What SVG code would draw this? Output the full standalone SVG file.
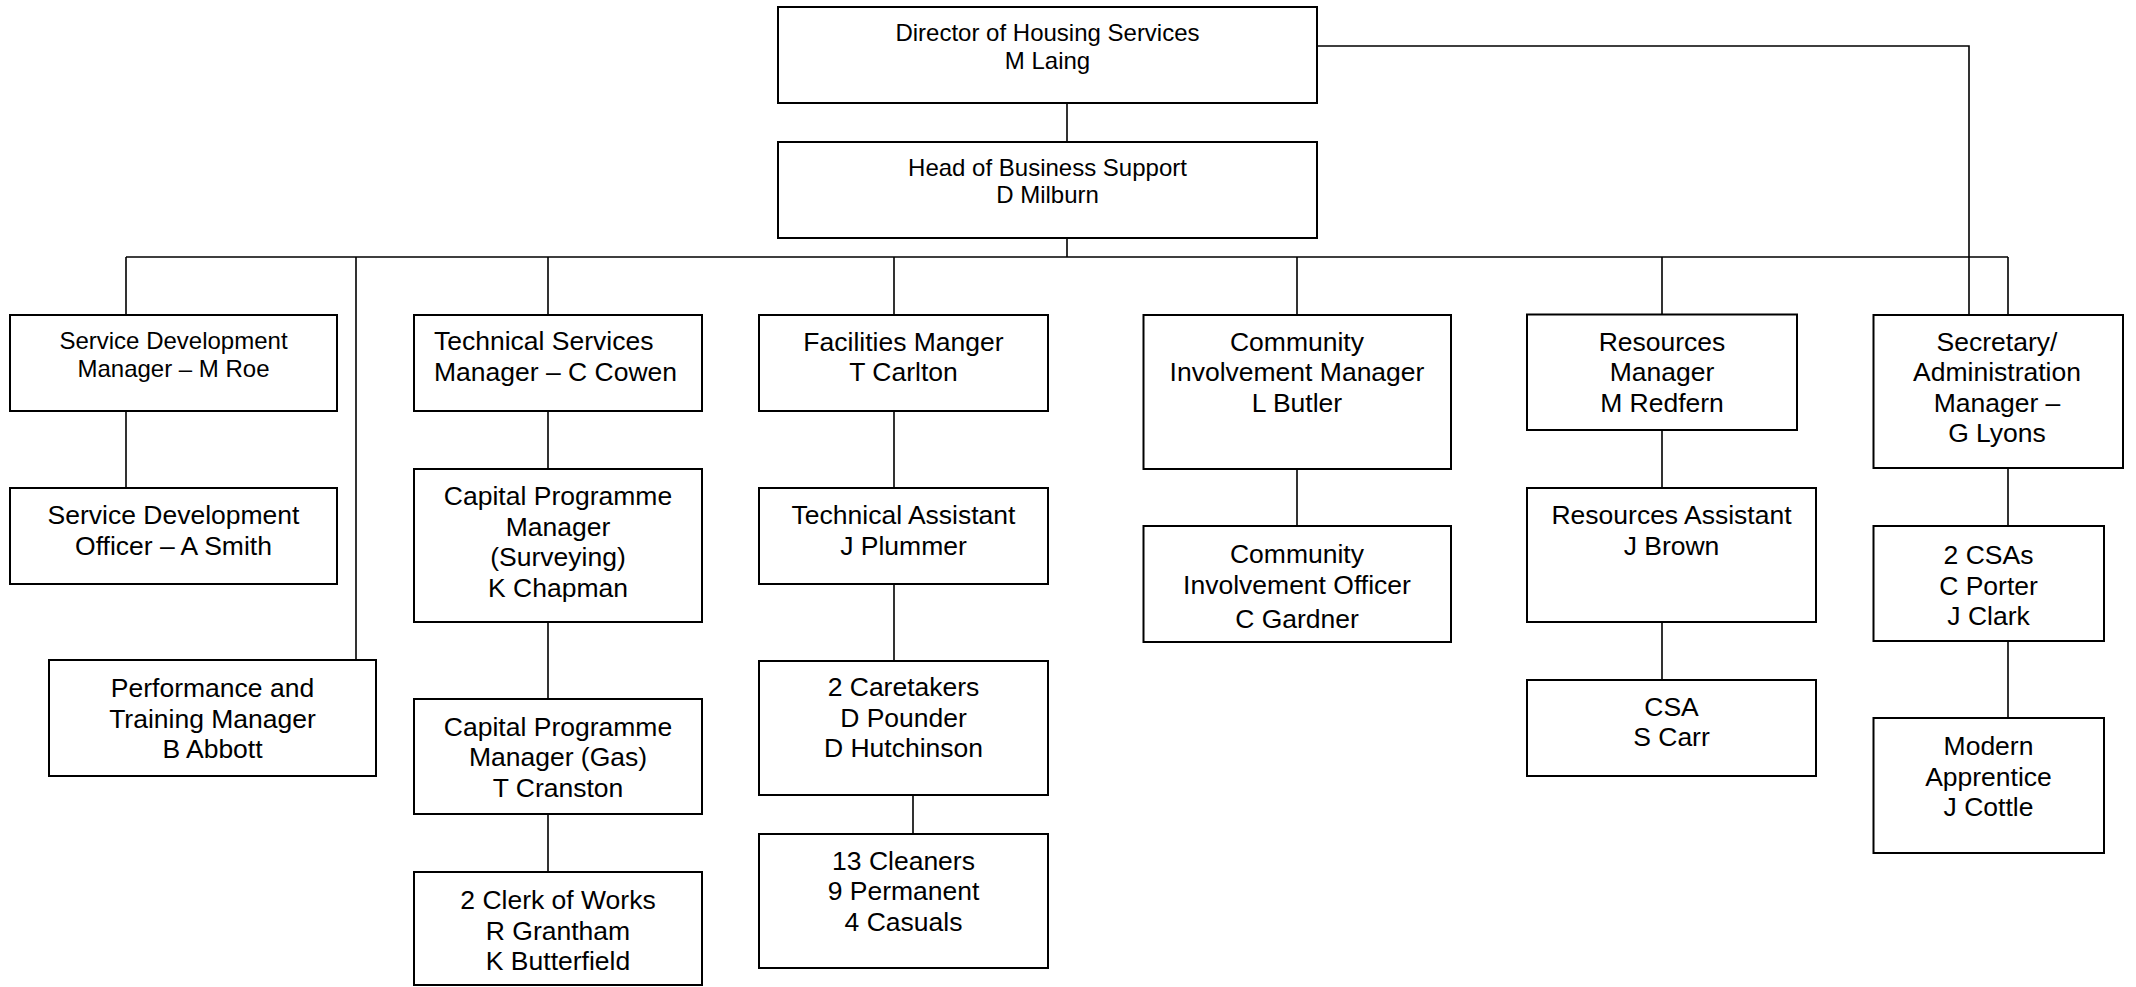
<svg xmlns="http://www.w3.org/2000/svg" width="2136" height="987" viewBox="0 0 2136 987">
<style>
.box{fill:#fff;stroke:#000;stroke-width:2}
.c{fill:none;stroke:#000;stroke-width:1.6}
text{font-family:"Liberation Sans",Arial,sans-serif;font-size:26.5px;text-anchor:middle;fill:#000}
.s{font-size:24px}
.l{text-anchor:start}
</style>
<rect width="2136" height="987" fill="#fff"/>
<g id="connectors">
<path class="c" d="M1067 103V142M1067 238V257M126 257H2008M126 257V315M548 257V315M894 257V315M1297 257V315M1662 257V315M2008 257V315M356 257V660"/>
<path class="c" d="M1317 46H1969V315"/>
<path class="c" d="M126 411V488M548 411V469M548 622V699M548 814V872M894 411V488M894 584V661M913 795V834M1297 469V526M1662 430V488M1662 622V680M2008 468V526M2008 641V718"/>
</g>
<g id="director">
<rect class="box" x="778" y="7" width="539" height="96"/>
<text class="s" x="1047.5" y="41">Director of Housing Services</text>
<text class="s" x="1047.5" y="69">M Laing</text>
</g>
<g id="head">
<rect class="box" x="778" y="142" width="539" height="96"/>
<text class="s" x="1047.5" y="175.5">Head of Business Support</text>
<text class="s" x="1047.5" y="203">D Milburn</text>
</g>
<g id="sdm">
<rect class="box" x="10" y="315" width="327" height="96"/>
<text class="s" x="173.5" y="349">Service Development</text>
<text class="s" x="173.5" y="376.5">Manager – M Roe</text>
</g>
<g id="sdo">
<rect class="box" x="10" y="488" width="327" height="96"/>
<text x="173.5" y="524">Service Development</text>
<text x="173.5" y="554.5">Officer – A Smith</text>
</g>
<g id="perf">
<rect class="box" x="49" y="660" width="327" height="116"/>
<text x="212.5" y="697">Performance and</text>
<text x="212.5" y="727.5">Training Manager</text>
<text x="212.5" y="758">B Abbott</text>
</g>
<g id="tsm">
<rect class="box" x="414" y="315" width="288" height="96"/>
<text class="l" x="434" y="350">Technical Services</text>
<text class="l" x="434" y="380.5">Manager – C Cowen</text>
</g>
<g id="cpms">
<rect class="box" x="414" y="469" width="288" height="153"/>
<text x="558" y="505">Capital Programme</text>
<text x="558" y="535.5">Manager</text>
<text x="558" y="566">(Surveying)</text>
<text x="558" y="596.5">K Chapman</text>
</g>
<g id="cpmg">
<rect class="box" x="414" y="699" width="288" height="115"/>
<text x="558" y="735.5">Capital Programme</text>
<text x="558" y="766">Manager (Gas)</text>
<text x="558" y="796.5">T Cranston</text>
</g>
<g id="clerk">
<rect class="box" x="414" y="872" width="288" height="113"/>
<text x="558" y="909">2 Clerk of Works</text>
<text x="558" y="939.5">R Grantham</text>
<text x="558" y="970">K Butterfield</text>
</g>
<g id="facilities">
<rect class="box" x="759" y="315" width="289" height="96"/>
<text x="903.5" y="350.5">Facilities Manger</text>
<text x="903.5" y="381">T Carlton</text>
</g>
<g id="techasst">
<rect class="box" x="759" y="488" width="289" height="96"/>
<text x="903.5" y="524">Technical Assistant</text>
<text x="903.5" y="554.5">J Plummer</text>
</g>
<g id="caretakers">
<rect class="box" x="759" y="661" width="289" height="134"/>
<text x="903.5" y="696">2 Caretakers</text>
<text x="903.5" y="726.5">D Pounder</text>
<text x="903.5" y="757">D Hutchinson</text>
</g>
<g id="cleaners">
<rect class="box" x="759" y="834" width="289" height="134"/>
<text x="903.5" y="869.5">13 Cleaners</text>
<text x="903.5" y="900">9 Permanent</text>
<text x="903.5" y="930.5">4 Casuals</text>
</g>
<g id="cim">
<rect class="box" x="1143.5" y="315" width="307.5" height="154"/>
<text x="1297" y="350.5">Community</text>
<text x="1297" y="381">Involvement Manager</text>
<text x="1297" y="411.5">L Butler</text>
</g>
<g id="cio">
<rect class="box" x="1143.5" y="526" width="307.5" height="116"/>
<text x="1297" y="563">Community</text>
<text x="1297" y="594">Involvement Officer</text>
<text x="1297" y="627.5">C Gardner</text>
</g>
<g id="resources">
<rect class="box" x="1527" y="314.5" width="270" height="115.5"/>
<text x="1662" y="350.5">Resources</text>
<text x="1662" y="381">Manager</text>
<text x="1662" y="411.5">M Redfern</text>
</g>
<g id="resasst">
<rect class="box" x="1527" y="488" width="289" height="134"/>
<text x="1671.5" y="524">Resources Assistant</text>
<text x="1671.5" y="554.5">J Brown</text>
</g>
<g id="csa">
<rect class="box" x="1527" y="680" width="289" height="96"/>
<text x="1671.5" y="715.5">CSA</text>
<text x="1671.5" y="746">S Carr</text>
</g>
<g id="secretary">
<rect class="box" x="1873.5" y="315" width="249.5" height="153"/>
<text x="1997" y="350.5">Secretary/</text>
<text x="1997" y="381">Administration</text>
<text x="1997" y="411.5">Manager –</text>
<text x="1997" y="442">G Lyons</text>
</g>
<g id="csas">
<rect class="box" x="1873.5" y="526" width="230.5" height="115"/>
<text x="1988.5" y="564">2 CSAs</text>
<text x="1988.5" y="594.5">C Porter</text>
<text x="1988.5" y="625">J Clark</text>
</g>
<g id="apprentice">
<rect class="box" x="1873.5" y="718" width="230.5" height="135"/>
<text x="1988.5" y="755">Modern</text>
<text x="1988.5" y="785.5">Apprentice</text>
<text x="1988.5" y="816">J Cottle</text>
</g>
</svg>
